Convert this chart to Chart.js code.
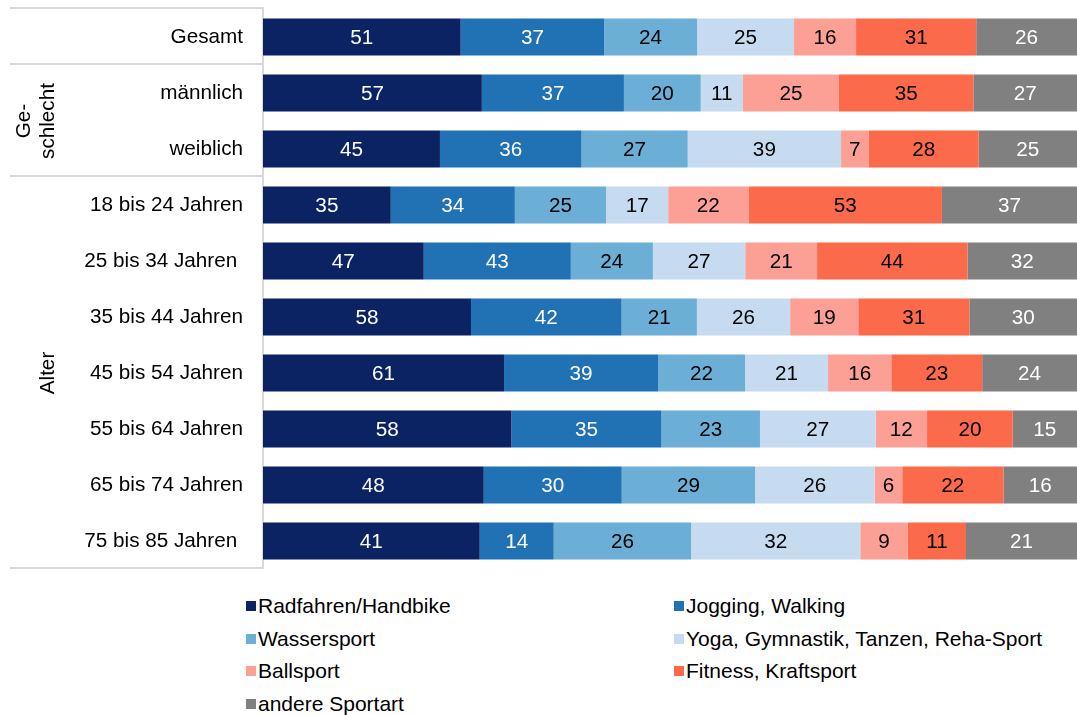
<!DOCTYPE html>
<html>
<head>
<meta charset="utf-8">
<script src="https://cdn.jsdelivr.net/npm/chart.js@4.4.1/dist/chart.umd.min.js"></script>
<style>
  body { margin: 0; background: #fff; font-family: "Liberation Sans", Arial, sans-serif; }
  #wrap { position: relative; width: 1077px; height: 580px; }
  #legend {
    position: absolute; left: 246px; top: 590px;
    display: grid; grid-template-columns: 428px auto; grid-auto-rows: 32.5px;
    font-size: 21px; color: #000;
  }
  #legend .item { display: flex; align-items: center; white-space: nowrap; }
  #legend .box { width: 10px; height: 10px; margin-right: 2px; flex: none; }
</style>
</head>
<body>
<div id="wrap"><canvas id="myChart"></canvas></div>
<div id="legend"></div>
<script>
// Zeilen (Kategorien)
const categories = ['Gesamt', 'männlich', 'weiblich', '18 bis 24 Jahren', '25 bis 34 Jahren ',
    '35 bis 44 Jahren', '45 bis 54 Jahren', '55 bis 64 Jahren', '65 bis 74 Jahren', '75 bis 85 Jahren '];

// Werte je Sportart
const radfahren   = [51, 57, 45, 35, 47, 58, 61, 58, 48, 41];
const jogging     = [37, 37, 36, 34, 43, 42, 39, 35, 30, 14];
const wassersport = [24, 20, 27, 25, 24, 21, 22, 23, 29, 26];
const yoga        = [25, 11, 39, 17, 27, 26, 21, 27, 26, 32];
const ballsport   = [16, 25, 7, 22, 21, 19, 16, 12, 6, 9];
const fitness     = [31, 35, 28, 53, 44, 31, 23, 20, 22, 11];
const andere      = [26, 27, 25, 37, 32, 30, 24, 15, 16, 21];

const seriesNames = ['Radfahren/Handbike', 'Jogging, Walking', 'Wassersport',
    'Yoga, Gymnastik, Tanzen, Reha-Sport', 'Ballsport', 'Fitness, Kraftsport', 'andere Sportart'];

// Gruppen links (Zeilenbereich)
const groups = [
    { lines: ['Ge-', 'schlecht'], from: 1, to: 2 },
    { lines: ['Alter'], from: 3, to: 9 }
];

const series = [radfahren, jogging, wassersport, yoga, ballsport, fitness, andere];
const colors = ['#0c2363', '#2171b5', '#6baed6', '#c6dbef', '#fca096', '#fb6a4a', '#808080'];
const labelColors = ['#fff', '#fff', '#000', '#000', '#000', '#000', '#fff'];

// Zeilensummen -> Anteile (jede Zeile füllt die ganze Breite)
const rowSums = categories.map((c, i) => series.reduce((s, arr) => s + arr[i], 0));

const FONT = '"Liberation Sans", Arial, sans-serif';
const FSIZE = 20.7;

const datasets = series.map((arr, k) => ({
    label: seriesNames[k],
    data: arr.map((v, i) => v / rowSums[i] * 100),
    raw: arr,
    backgroundColor: colors[k],
    borderWidth: 0,
    barPercentage: 0.66,
    categoryPercentage: 1
}));

const valueLabels = {
    id: 'valueLabels',
    afterDatasetsDraw(chart) {
        const ctx = chart.ctx;
        ctx.save();
        ctx.font = FSIZE + 'px ' + FONT;
        ctx.textAlign = 'center';
        ctx.textBaseline = 'middle';
        chart.data.datasets.forEach((ds, k) => {
            const meta = chart.getDatasetMeta(k);
            meta.data.forEach((el, i) => {
                const p = el.getCenterPoint();
                ctx.fillStyle = labelColors[k];
                ctx.fillText(String(ds.raw[i]), p.x, p.y + 1);
            });
        });
        ctx.restore();
    }
};

const tableLines = {
    id: 'tableLines',
    beforeDraw(chart) {
        const ctx = chart.ctx;
        const y = chart.scales.y;
        const left = chart.chartArea.left;
        const edge = i => y.getPixelForValue(i - 0.5);
        ctx.save();
        ctx.strokeStyle = '#d9d9d9';
        ctx.lineWidth = 2;
        ctx.beginPath();
        [0, 1, 3, categories.length].forEach(i => {
            ctx.moveTo(10, edge(i) - 1);
            ctx.lineTo(left, edge(i) - 1);
        });
        ctx.moveTo(left, edge(0) - 2);
        ctx.lineTo(left, edge(categories.length));
        ctx.stroke();

        // Gruppenbeschriftung, gedreht
        ctx.fillStyle = '#000';
        ctx.font = FSIZE + 'px ' + FONT;
        ctx.textAlign = 'center';
        ctx.textBaseline = 'middle';
        groups.forEach(g => {
            const cy = (edge(g.from) + edge(g.to + 1)) / 2;
            g.lines.forEach((t, j) => {
                const cx = 48 - (g.lines.length - 1 - j) * 24;
                ctx.save();
                ctx.translate(cx, cy);
                ctx.rotate(-Math.PI / 2);
                ctx.fillText(t, 0, 0);
                ctx.restore();
            });
        });
        ctx.restore();
    }
};

const config = {
    type: 'bar',
    data: { labels: categories, datasets: datasets },
    options: {
        indexAxis: 'y',
        responsive: true,
        maintainAspectRatio: false,
        animation: false,
        layout: { padding: { top: 9, bottom: 11, left: 0, right: 0 } },
        scales: {
            x: { stacked: true, min: 0, max: 100, display: false },
            y: {
                stacked: true,
                grid: { display: false, drawTicks: false },
                border: { display: false },
                ticks: { color: '#000', font: { size: FSIZE, family: FONT }, padding: 20, autoSkip: false },
                afterFit(scale) {
                    scale.width = 263;
                    scale.paddingTop = 0;
                    scale.paddingBottom = 0;
                }
            }
        },
        plugins: {
            legend: { display: false },
            tooltip: { enabled: false }
        }
    },
    plugins: [tableLines, valueLabels]
};

new Chart(document.getElementById('myChart'), config);

// Legende (HTML, zweispaltig)
const legendEl = document.getElementById('legend');
seriesNames.forEach((name, k) => {
    const item = document.createElement('div');
    item.className = 'item';
    item.innerHTML = '<span class="box" style="background:' + colors[k] + '"></span><span>' + name + '</span>';
    legendEl.appendChild(item);
});
</script>
</body>
</html>
